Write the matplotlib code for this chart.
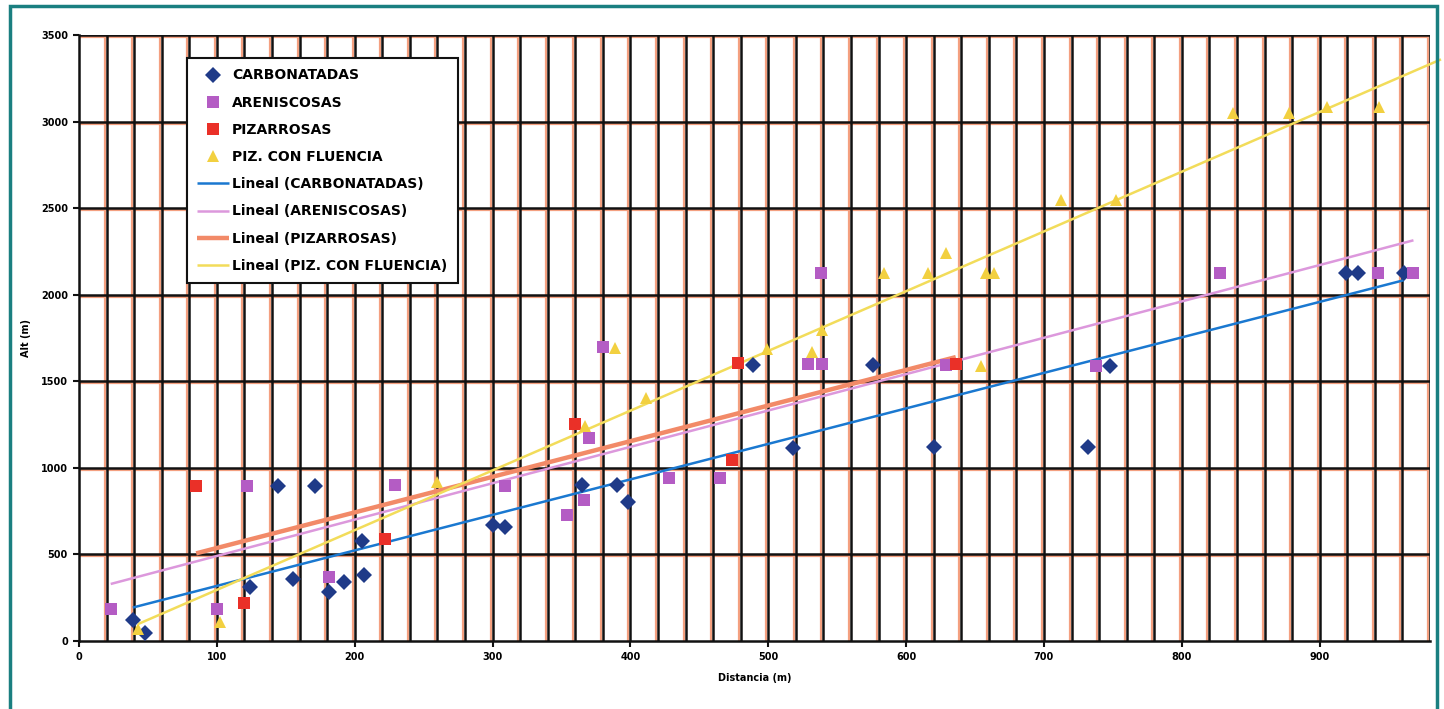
import numpy as np
import matplotlib
matplotlib.use("Agg")
import matplotlib.pyplot as plt
from matplotlib.patches import Rectangle
from matplotlib.transforms import ScaledTranslation

# ---- data ----
carb_x = [39, 48, 124, 144, 171, 155, 181, 192, 207, 205, 300, 309, 365, 390, 398,
          489, 518, 576, 620, 732, 748, 919, 928, 961]
carb_y = [120, 46, 312, 895, 895, 358, 283, 341, 381, 577, 670, 658, 901, 901, 803,
          1594, 1114, 1594, 1120, 1120, 1588, 2125, 2125, 2125]

aren_x = [23, 100, 122, 181, 229, 309, 354, 366, 370, 380, 428, 465, 529, 539, 538,
          629, 738, 828, 942, 968]
aren_y = [185, 185, 895, 370, 901, 895, 727, 814, 1172, 1698, 941, 941, 1599, 1599, 2125,
          1594, 1588, 2125, 2125, 2125]

piz_x = [85, 120, 222, 360, 474, 478, 636]
piz_y = [895, 219, 589, 1253, 1045, 1605, 1599]

flu_x = [43, 102, 260, 367, 389, 411, 499, 532, 539, 584, 616, 629, 654, 658, 664,
         712, 752, 837, 878, 905, 943]
flu_y = [70, 110, 918, 1241, 1692, 1403, 1686, 1669, 1796, 2125, 2125, 2240, 1588, 2125, 2125,
         2546, 2546, 3049, 3049, 3083, 3083]

names = ["CARBONATADAS", "ARENISCOSAS", "PIZARROSAS", "PIZ. CON FLUENCIA"]
x_ticks = [0, 100, 200, 300, 400, 500, 600, 700, 800, 900]
y_ticks = [0, 500, 1000, 1500, 2000, 2500, 3000, 3500]
x_max = 980
flu_forward = 45   # Excel-style forward extension of the last trend line

# ---- figure ----
fig = plt.figure(figsize=(14.44, 7.09), dpi=100)
fig.patch.set_facecolor("white")
ax = fig.add_axes([79/1444, 1-641/709, (1430-79)/1444, (641-35)/709])
ax.set_xlim(0, x_max)
ax.set_ylim(0, 3500)

# grid (black with a salmon misregistration shadow)
shadow = ax.transData + ScaledTranslation(-2/100, -2/100, fig.dpi_scale_trans)
for gx in np.arange(20, x_max + 1, 20):
    ax.plot([gx, gx], [0, 3500], color="#f4a080", lw=1.6, zorder=0.5, transform=shadow)
    ax.axvline(gx, color="#111111", lw=1.8, zorder=0.6)
for gy in y_ticks[1:]:
    ax.plot([0, x_max], [gy, gy], color="#f4a080", lw=1.6, zorder=0.5, transform=shadow)
    ax.axhline(gy, color="#111111", lw=1.8, zorder=0.6)

for s in ["top", "right"]:
    ax.spines[s].set_visible(False)
for s in ["left", "bottom"]:
    ax.spines[s].set_linewidth(1.8)
    ax.spines[s].set_color("#111111")

# scatter
series = [
    (carb_x, carb_y, "D", "#1f3a88", 8, "#1a78d0", 1.8, 0),
    (aren_x, aren_y, "s", "#b45cc4", 9, "#dc98dc", 1.8, 0),
    (piz_x, piz_y, "s", "#ea3028", 9, "#f28a68", 3.2, 0),
    (flu_x, flu_y, "^", "#f2d040", 9, "#f2dc5a", 1.8, flu_forward),
]
mk_handles = []
ln_handles = []
for (xs, ys, m, c, ms, lc, lw, fw), nm in zip(series, names):
    h, = ax.plot(xs, ys, linestyle="none", marker=m, color=c, markersize=ms,
                 markeredgewidth=0, zorder=3, label=nm)
    mk_handles.append(h)
for (xs, ys, m, c, ms, lc, lw, fw), nm in zip(series, names):
    xs = np.array(xs, float)
    ys = np.array(ys, float)
    k, b = np.polyfit(xs, ys, 1)
    xx = np.array([xs.min(), xs.max() + fw])
    l, = ax.plot(xx, k*xx + b, color=lc, lw=lw, zorder=2.5, label="Lineal (" + nm + ")",
                 solid_capstyle="butt", clip_on=False)
    ln_handles.append(l)

ax.set_xticks(x_ticks)
ax.set_yticks(y_ticks)
ax.set_xticklabels([str(v) for v in x_ticks], fontsize=7, fontweight="bold")
ax.set_yticklabels([str(v) for v in y_ticks], fontsize=7, fontweight="bold")
ax.tick_params(axis="both", length=4, width=1.5, color="#111111", pad=4)
ax.set_xlabel("Distancia (m)", fontsize=7, fontweight="bold", labelpad=8)
ax.set_ylabel("Alt (m)", fontsize=7, fontweight="bold", labelpad=7)

leg = ax.legend(handles=mk_handles + ln_handles, loc="upper left",
                bbox_to_anchor=((187-79)/1351, (641-58)/606),
                prop={"size": 10, "weight": "bold"},
                frameon=True, fancybox=False, edgecolor="#111111", framealpha=1,
                borderpad=0.75, labelspacing=0.95, handlelength=2.3, handletextpad=0.2,
                borderaxespad=0)
leg.get_frame().set_linewidth(1.5)
leg.set_zorder(5)

# teal page border
fig.patches.append(Rectangle((10/1444, -0.01), (1437-10)/1444, 1 - 6/709 + 0.01,
                             transform=fig.transFigure, fill=False,
                             edgecolor="#1a7f80", lw=2.5))

fig.savefig("out.png", dpi=100, facecolor="white")
